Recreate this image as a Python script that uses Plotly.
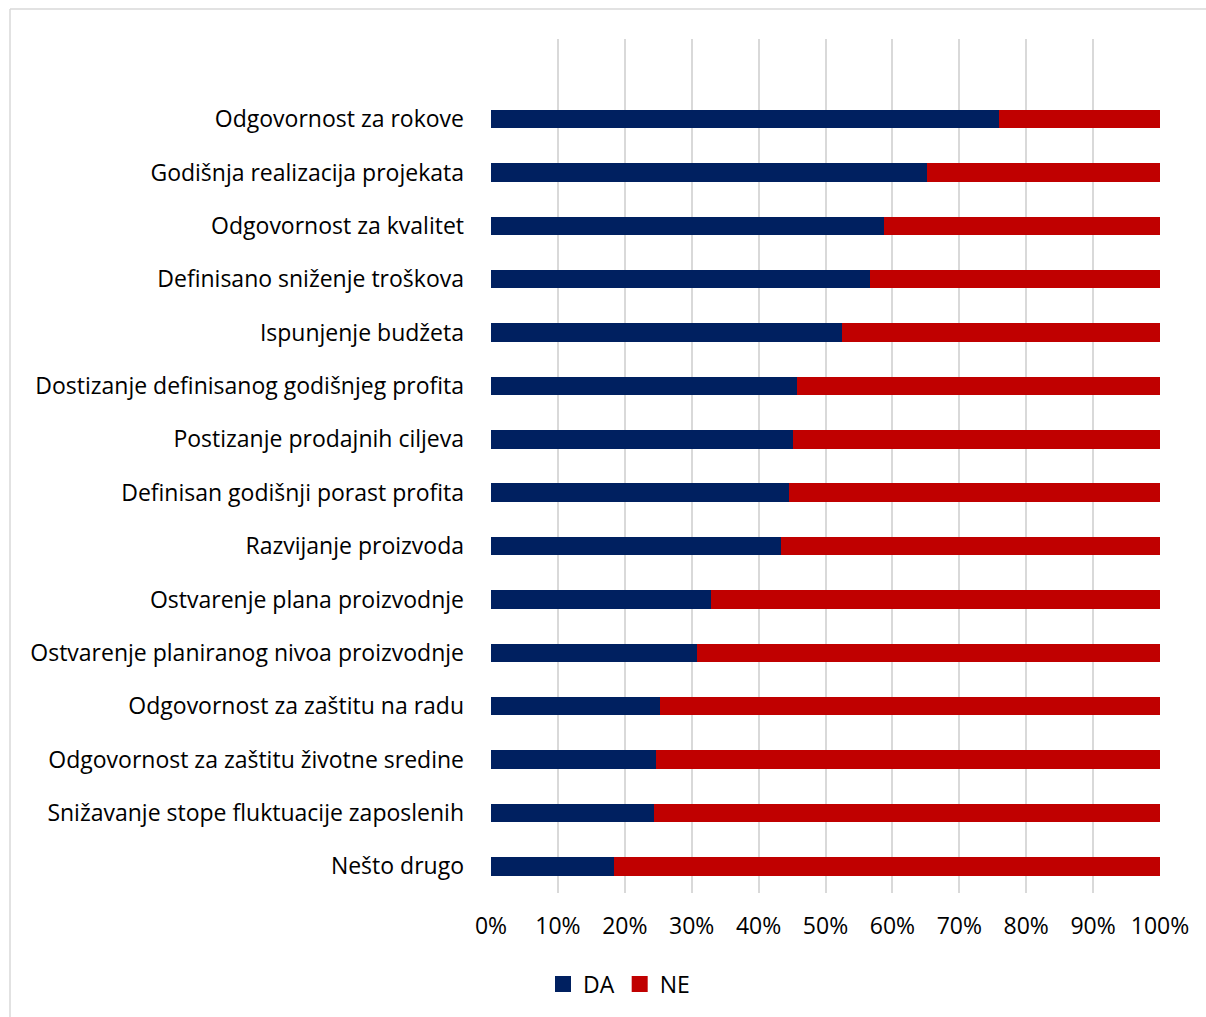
import plotly.graph_objects as go

# Survey items, top to bottom
categories = [
    "Odgovornost za rokove",
    "Godišnja realizacija projekata",
    "Odgovornost za kvalitet",
    "Definisano sniženje troškova",
    "Ispunjenje budžeta",
    "Dostizanje definisanog godišnjeg profita",
    "Postizanje prodajnih ciljeva",
    "Definisan godišnji porast profita",
    "Razvijanje proizvoda",
    "Ostvarenje plana proizvodnje",
    "Ostvarenje planiranog nivoa proizvodnje",
    "Odgovornost za zaštitu na radu",
    "Odgovornost za zaštitu životne sredine",
    "Snižavanje stope fluktuacije zaposlenih",
    "Nešto drugo",
]

# Share of answers (%)
da_values = [76.0, 65.2, 58.7, 56.7, 52.5, 45.7, 45.1, 44.6, 43.4, 32.9, 30.8, 25.2, 24.7, 24.4, 18.4]
ne_values = [round(100 - v, 1) for v in da_values]

series_names = ["DA", "NE"]
series_colors = ["#002060", "#C00000"]

x_ticks = [0, 10, 20, 30, 40, 50, 60, 70, 80, 90, 100]
x_tick_labels = [f"{t}%" for t in x_ticks]

FONT = "Open Sans"
FS = 23
W, H = 1206, 1017
L, R, T, B = 491, 46, 39, 124

fig = go.Figure()
for name, vals, col in zip(series_names, [da_values, ne_values], series_colors):
    fig.add_trace(go.Bar(
        name=name, y=categories, x=vals, orientation="h",
        marker=dict(color=col, line=dict(width=0)),
        showlegend=False, legendgroup=name,
    ))
# Legend entries with square swatches
for name, col in zip(series_names, series_colors):
    fig.add_trace(go.Scatter(
        name=name, x=[None], y=[None], mode="markers",
        marker=dict(symbol="square", size=16, color=col),
        legendgroup=name, showlegend=True,
    ))

fig.update_layout(
    width=W, height=H,
    margin=dict(l=L, r=R, t=T, b=B),
    barmode="stack",
    bargap=0.654,
    plot_bgcolor="white",
    paper_bgcolor="white",
    font=dict(family=FONT, size=FS, color="#000000"),
    showlegend=True,
    legend=dict(
        orientation="h",
        x=(543 - L) / (W - L - R), xanchor="left",
        y=-(984 - (H - B)) / (H - T - B), yanchor="middle",
        font=dict(family=FONT, size=FS),
        traceorder="normal",
        itemwidth=30,
    ),
)

fig.update_xaxes(
    range=[0, 100],
    tickvals=x_ticks,
    ticktext=x_tick_labels,
    showgrid=True,
    gridcolor="#d9d9d9",
    gridwidth=2,
    zeroline=False,
    showline=False,
    ticks="",
    ticklabelstandoff=17,
    tickfont=dict(family=FONT, size=FS),
)

fig.update_yaxes(
    type="category",
    categoryorder="array",
    categoryarray=list(reversed(categories)),
    range=[-0.5, len(categories) + 0.5],
    showgrid=False,
    zeroline=False,
    showline=False,
    ticks="",
    ticklabelstandoff=26,
    tickfont=dict(family=FONT, size=FS),
)

# Chart frame (top and left edges)
pw = W - L - R
ph = H - T - B
fx0 = (10 - L) / pw
fx1 = (W + 5 - L) / pw
fy_top = 1 + (T - 9) / ph
fy_bot = -(H + 5 - (H - B)) / ph
fig.add_shape(type="line", xref="paper", yref="paper",
              x0=fx0, x1=fx1, y0=fy_top, y1=fy_top,
              line=dict(color="#d9d9d9", width=1.5))
fig.add_shape(type="line", xref="paper", yref="paper",
              x0=fx0, x1=fx0, y0=fy_top, y1=fy_bot,
              line=dict(color="#d9d9d9", width=1.5))

fig.write_html("out.html")
